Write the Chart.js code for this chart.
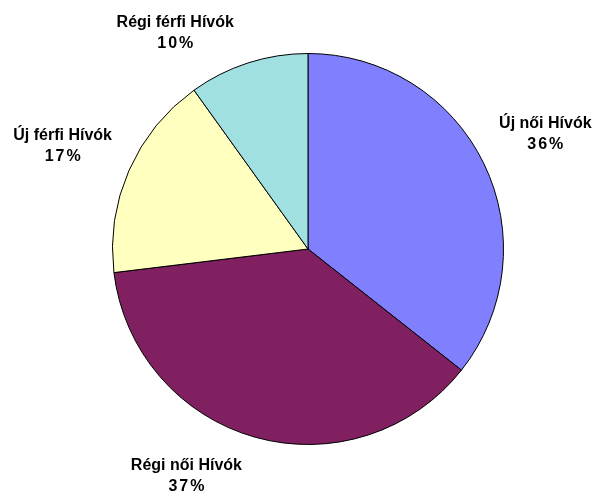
<!DOCTYPE html>
<html>
<head>
<meta charset="utf-8">
<script src="https://cdn.jsdelivr.net/npm/chart.js@4"></script>
<style>
  html, body { margin: 0; padding: 0; background: #fff; }
  #wrap { width: 599px; height: 493px; }
</style>
</head>
<body>
<div id="wrap"><canvas id="pieChart" width="599" height="493"></canvas></div>
<script>
// Données du graphique
const categories = ['Új női Hívók', 'Régi női Hívók', 'Új férfi Hívók', 'Régi férfi Hívók'];
const values = [35.6, 37.4, 17.0, 9.9];
const colors = ['#8080FF', '#802060', '#FFFFC0', '#A0E0E0'];

// Position des étiquettes (fraction du rayon, par rapport au centre)
const labelOffsets = [[1.214, -0.617], [-0.622, 1.128], [-1.255, -0.556], [-0.679, -1.138]];

const pieLabels = {
    id: 'pieLabels',
    afterDraw(chart) {
        const ctx = chart.ctx;
        const arcs = chart.getDatasetMeta(0).data;
        const total = values.reduce((a, b) => a + b, 0);
        ctx.save();
        ctx.fillStyle = '#000';
        ctx.font = 'bold 16px "Liberation Sans", Arial, sans-serif';
        ctx.textAlign = 'center';
        ctx.textBaseline = 'alphabetic';
        arcs.forEach((arc, i) => {
            const r = arc.outerRadius;
            const x = arc.x + labelOffsets[i][0] * r;
            const y = arc.y + labelOffsets[i][1] * r;
            const pct = Math.round(values[i] / total * 100);
            ctx.letterSpacing = '0px';
            ctx.fillText(categories[i], x, y);
            // les pourcentages sont un peu espacés
            ctx.letterSpacing = '2px';
            ctx.fillText(pct + '%', x + 1, y + 21);
        });
        ctx.restore();
    }
};

document.addEventListener('DOMContentLoaded', () => {
    const ctx = document.getElementById('pieChart').getContext('2d');
    new Chart(ctx, {
        type: 'pie',
        data: {
            labels: categories,
            datasets: [{
                data: values,
                backgroundColor: colors,
                borderColor: '#000',
                borderWidth: 1
            }]
        },
        options: {
            responsive: false,
            animation: false,
            layout: {
                padding: { top: 53, bottom: 48, left: 112, right: 95 }
            },
            plugins: {
                legend: { display: false },
                tooltip: { enabled: false }
            }
        },
        plugins: [pieLabels]
    });
});
</script>
</body>
</html>
